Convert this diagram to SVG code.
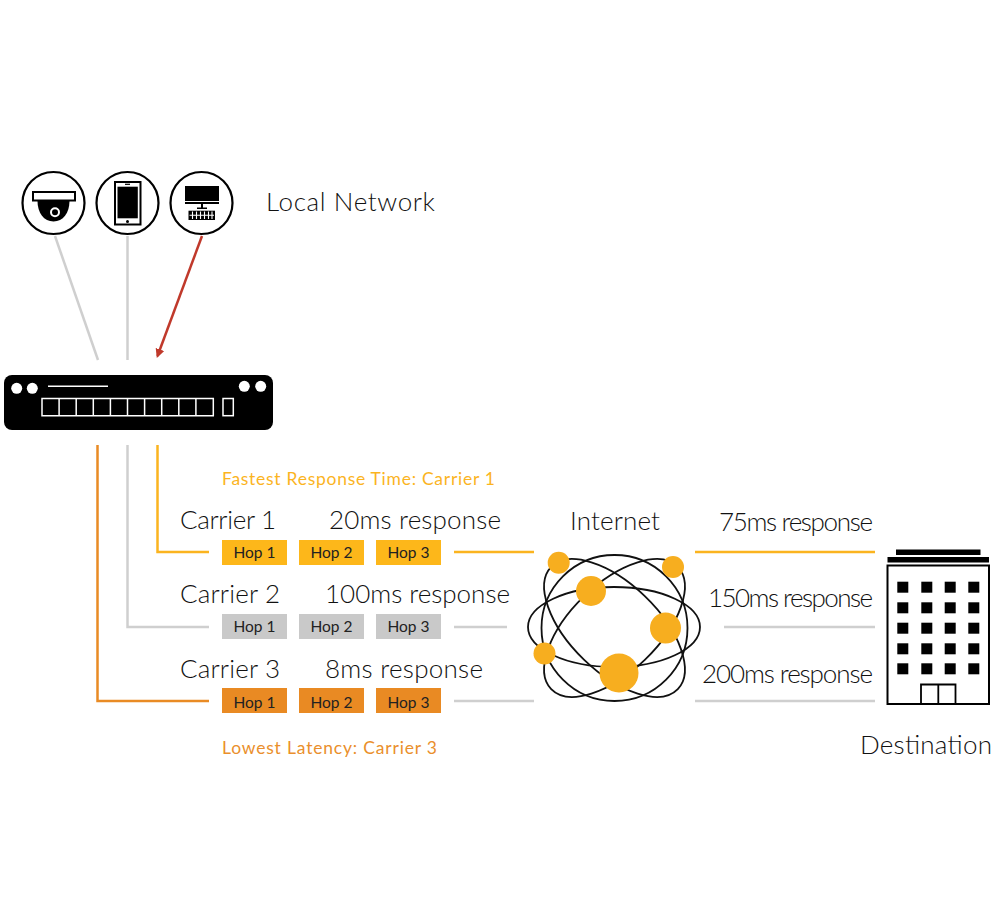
<svg xmlns="http://www.w3.org/2000/svg" width="992" height="913" viewBox="0 0 992 913">
<style>
text{font-family:"Lato","Liberation Sans",sans-serif;fill:#111}
.lab{font-size:26px;font-weight:300}
.note{font-size:17.500px}
.hop{font-size:15.500px;text-anchor:middle;fill:#222}
.c{fill:none;stroke-width:2.5}
.gold{stroke:#fbb41f}.gray{stroke:#cfcfcf}.orange{stroke:#e98b24}
.ring{fill:#fff;stroke:#000;stroke-width:2.2}
.orb{fill:none;stroke:#111;stroke-width:1.8}
.ball{fill:#f7ae1f}
.win{fill:#000}
</style>
<defs>
<marker id="arrow" markerWidth="10" markerHeight="10" refX="7" refY="4.500" orient="auto" markerUnits="userSpaceOnUse"><path d="M0 0L9 4.500L0 9Z" fill="#c0392b"/></marker>
</defs>
<g id="connectors">
<path class="c gray" d="M55 236L98 360"/>
<path class="c gray" d="M127.500 236V360"/>
<path d="M202 236L157.500 356" fill="none" stroke="#c0392b" stroke-width="2.500" marker-end="url(#arrow)"/>
<path class="c gold" d="M157.500 445V552H209"/>
<path class="c gray" d="M127.500 445V627H209"/>
<path class="c orange" d="M97.500 445V701H209"/>
<path class="c gold" d="M454 552H534M695 552H875"/>
<path class="c gray" d="M454 627H507M724 627H875M454 701H534M695 701H875"/>
</g>
<g id="camera">
<circle class="ring" cx="53.500" cy="203" r="31"/>
<rect x="33" y="192" width="42" height="8.500" fill="#fff" stroke="#000" stroke-width="2"/>
<path d="M37.500 201H69.500C69.500 213 63 221.500 53.500 221.500S37.500 213 37.500 201Z" fill="#000"/>
<circle cx="55" cy="212.300" r="4" fill="#000" stroke="#fff" stroke-width="2"/>
</g>
<g id="phone">
<circle class="ring" cx="127.500" cy="203" r="31"/>
<rect x="115" y="182" width="25.500" height="42.500" fill="#fff" stroke="#000" stroke-width="2"/>
<rect x="117.500" y="186.700" width="20.300" height="31.600" fill="#000"/>
<rect x="125" y="183.700" width="5" height="1.200" fill="#000"/>
<circle cx="127.500" cy="221.500" r="1.500" fill="#000"/>
</g>
<g id="desktop">
<circle class="ring" cx="201.500" cy="203" r="31"/>
<rect x="185" y="186" width="34" height="15" fill="#000"/>
<rect x="185" y="202" width="34" height="2" fill="#000"/>
<rect x="201" y="204" width="2" height="4" fill="#000"/>
<rect x="197" y="207.500" width="10" height="1.500" fill="#000"/>
<rect x="188.500" y="210.700" width="26.500" height="9.300" fill="#000"/>
<path d="M192.500 211.500V219M196.500 211.500V219M200.500 211.500V219M204.500 211.500V219M208.500 211.500V219M212 211.500V219M189.500 215.300H214" stroke="#fff" stroke-width="1.100"/>
</g>
<g id="localnet"><text class="lab" x="266" y="211" textLength="169" lengthAdjust="spacing">Local Network</text></g>
<g id="switch">
<rect x="4" y="375" width="269" height="55" rx="8" fill="#000"/>
<circle cx="16.700" cy="388.300" r="5.500" fill="#fff"/><circle cx="32.300" cy="388.300" r="5.500" fill="#fff"/>
<circle cx="244.300" cy="386.300" r="5.500" fill="#fff"/><circle cx="260.700" cy="386.300" r="5.500" fill="#fff"/>
<path d="M48 386.300H108" stroke="#fff" stroke-width="1.500"/>
<path d="M42 398.500H213.300V415.700H42ZM59.100 398.500V415.700M76.200 398.500V415.700M93.300 398.500V415.700M110.400 398.500V415.700M127.500 398.500V415.700M144.600 398.500V415.700M161.700 398.500V415.700M178.800 398.500V415.700M195.900 398.500V415.700" fill="none" stroke="#fff" stroke-width="1.500"/>
<rect x="223" y="398.500" width="10.300" height="17.200" fill="none" stroke="#fff" stroke-width="1.500"/>
</g>
<g id="fastest"><text class="note" x="222" y="485" textLength="273" lengthAdjust="spacing" style="fill:#fbb41f">Fastest Response Time: Carrier 1</text></g>
<g id="carrier1">
<text class="lab" x="180" y="529" textLength="96" lengthAdjust="spacing">Carrier 1</text>
<text class="lab" x="329" y="529" textLength="172" lengthAdjust="spacing">20ms response</text>
<rect x="222" y="540" width="65" height="25" fill="#fdb71a"/><rect x="299" y="540" width="65" height="25" fill="#fdb71a"/><rect x="376" y="540" width="65" height="25" fill="#fdb71a"/>
<text class="hop" x="254.500" y="558">Hop 1</text><text class="hop" x="331.500" y="558">Hop 2</text><text class="hop" x="408.500" y="558">Hop 3</text>
</g>
<g id="carrier2">
<text class="lab" x="180" y="603" textLength="100" lengthAdjust="spacing">Carrier 2</text>
<text class="lab" x="325" y="603" textLength="185" lengthAdjust="spacing">100ms response</text>
<rect x="222" y="614" width="65" height="25" fill="#c9c9c9"/><rect x="299" y="614" width="65" height="25" fill="#c9c9c9"/><rect x="376" y="614" width="65" height="25" fill="#c9c9c9"/>
<text class="hop" x="254.500" y="632">Hop 1</text><text class="hop" x="331.500" y="632">Hop 2</text><text class="hop" x="408.500" y="632">Hop 3</text>
</g>
<g id="carrier3">
<text class="lab" x="180" y="678" textLength="100" lengthAdjust="spacing">Carrier 3</text>
<text class="lab" x="325" y="678" textLength="158" lengthAdjust="spacing">8ms response</text>
<rect x="222" y="688" width="65" height="25" fill="#e98a23"/><rect x="299" y="688" width="65" height="25" fill="#e98a23"/><rect x="376" y="688" width="65" height="25" fill="#e98a23"/>
<text class="hop" x="254.500" y="708">Hop 1</text><text class="hop" x="331.500" y="708">Hop 2</text><text class="hop" x="408.500" y="708">Hop 3</text>
</g>
<g id="lowest"><text class="note" x="222" y="754" textLength="215" lengthAdjust="spacing" style="fill:#ea8f2c">Lowest Latency: Carrier 3</text></g>
<g id="internet">
<text class="lab" x="570" y="530" textLength="90" lengthAdjust="spacing">Internet</text>
<ellipse class="orb" cx="614" cy="627" rx="86" ry="40"/>
<ellipse class="orb" cx="614.500" cy="628" rx="88" ry="44" transform="rotate(44 614.500 628)"/>
<ellipse class="orb" cx="614.500" cy="628" rx="88" ry="44" transform="rotate(-44 614.500 628)"/>
<ellipse class="orb" cx="614.500" cy="628" rx="73" ry="73"/>
<circle class="ball" cx="558.700" cy="562.700" r="11"/>
<circle class="ball" cx="673" cy="567" r="11"/>
<circle class="ball" cx="591" cy="591" r="15"/>
<circle class="ball" cx="665.500" cy="628" r="15.500"/>
<circle class="ball" cx="544.500" cy="653.500" r="11"/>
<circle class="ball" cx="619" cy="673" r="19.500"/>
</g>
<g id="latencies">
<text class="lab" x="719" y="531" textLength="154" lengthAdjust="spacing">75ms response</text>
<text class="lab" x="708" y="607" textLength="165" lengthAdjust="spacing">150ms response</text>
<text class="lab" x="702" y="683" textLength="171" lengthAdjust="spacing">200ms response</text>
</g>
<g id="destination">
<rect x="896" y="549.500" width="84.500" height="5.500" fill="#000"/>
<rect x="887.500" y="557" width="101.500" height="5.500" fill="#000"/>
<rect x="887.500" y="565.500" width="101.500" height="138.500" fill="#fff" stroke="#000" stroke-width="2"/>
<g class="win">
<rect x="897.300" y="581.700" width="11" height="11"/><rect x="921.300" y="581.700" width="11" height="11"/><rect x="944.700" y="581.700" width="11" height="11"/><rect x="968.300" y="581.700" width="11" height="11"/>
<rect x="897.300" y="602.300" width="11" height="11"/><rect x="921.300" y="602.300" width="11" height="11"/><rect x="944.700" y="602.300" width="11" height="11"/><rect x="968.300" y="602.300" width="11" height="11"/>
<rect x="897.300" y="622.700" width="11" height="11"/><rect x="921.300" y="622.700" width="11" height="11"/><rect x="944.700" y="622.700" width="11" height="11"/><rect x="968.300" y="622.700" width="11" height="11"/>
<rect x="897.300" y="643.300" width="11" height="11"/><rect x="921.300" y="643.300" width="11" height="11"/><rect x="944.700" y="643.300" width="11" height="11"/><rect x="968.300" y="643.300" width="11" height="11"/>
<rect x="897.300" y="663.300" width="11" height="11"/><rect x="921.300" y="663.300" width="11" height="11"/><rect x="944.700" y="663.300" width="11" height="11"/><rect x="968.300" y="663.300" width="11" height="11"/>
</g>
<path d="M921 704V684.500H955.500V704M938.300 684.500V704" fill="none" stroke="#000" stroke-width="1.800"/>
<text class="lab" x="860" y="754" textLength="132" lengthAdjust="spacing">Destination</text>
</g>
</svg>
